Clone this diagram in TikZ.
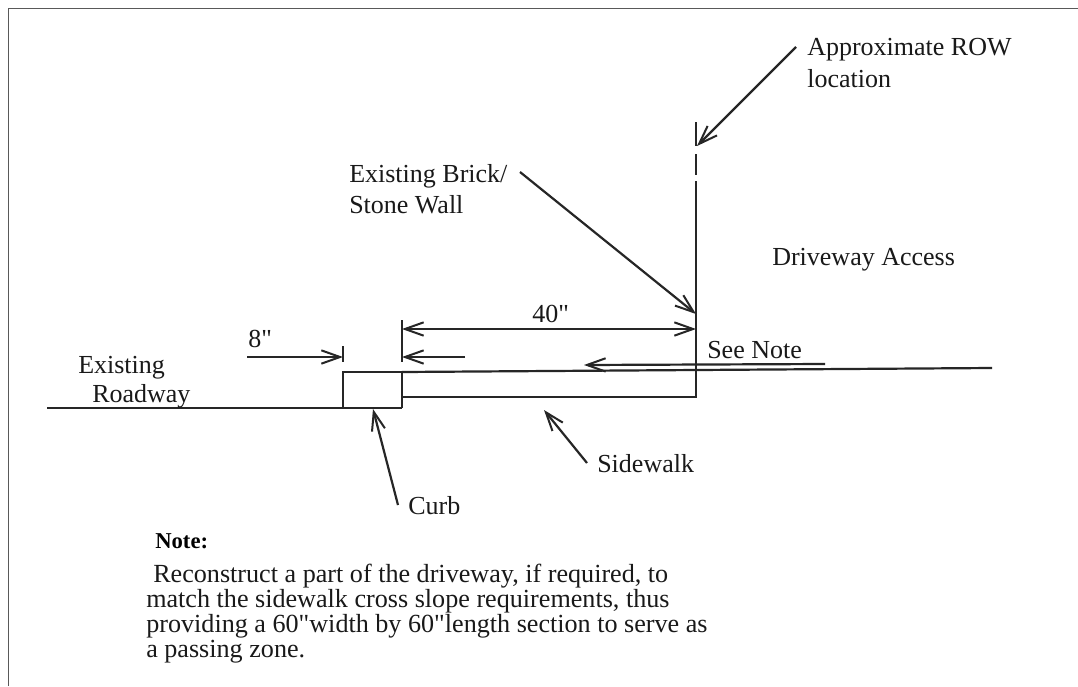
\documentclass[tikz,border=0pt]{standalone}
\usepackage{fontspec}
\setmainfont{Liberation Serif}[Ligatures=TeXOff]
\usetikzlibrary{arrows.meta}
\tikzset{
  ink/.style={draw=black!85,line width=1.65pt},
  barb/.tip={Straight Barb[length=14pt,width=10pt,line width=1.5pt]},
  lead/.style={ink,-barb},
  lbl/.style={inner sep=0pt,text=black!90,font=\fontsize{19.5}{21}\selectfont,anchor=base west},
  body/.style={inner sep=0pt,text=black!90,font=\fontsize{19.6}{18.75}\selectfont,anchor=base west}
}
\begin{document}
\begin{tikzpicture}[x=0.75pt,y=-0.75pt]
\useasboundingbox (0,0) rectangle (1078,686);
\fill[white] (0,0) rectangle (1078,686);
\draw[draw=black!65,line width=0.8pt] (8.5,686) -- (8.5,8.5) -- (1078,8.5);

% coordinates
\coordinate (roadL) at (47,408);
\coordinate (curbBL) at (343,408);
\coordinate (curbBR) at (402,408);
\coordinate (curbTL) at (343,372);
\coordinate (curbTR) at (402,372);
\coordinate (swB) at (402,397);
\coordinate (wallB) at (696,397);
\coordinate (wallT) at (696,181);
\coordinate (dashT) at (696,122);
\coordinate (dashB) at (696,146);
\coordinate (dash2T) at (696,154);
\coordinate (dash2B) at (696,175);
\coordinate (topR) at (992,368);
\coordinate (tickA1) at (343,346);
\coordinate (tickA2) at (343,362);
\coordinate (tickB1) at (402,320);
\coordinate (tickB2) at (402,362);
\coordinate (a8s) at (247,357);
\coordinate (a8e) at (343,357);
\coordinate (a40L) at (402,329);
\coordinate (a40R) at (696,329);
\coordinate (shortS) at (465,357);
\coordinate (shortE) at (402,357);
\coordinate (noteS) at (825,364);
\coordinate (noteE) at (584,365);
\coordinate (wallS) at (520,172);
\coordinate (wallE) at (696,314);
\coordinate (rowS) at (796,47);
\coordinate (rowE) at (697,146);
\coordinate (curbS) at (398,505);
\coordinate (curbE) at (373,409);
\coordinate (swS) at (587,463);
\coordinate (swE) at (544,410);

% structure
\draw[ink] (roadL) -- (curbBL) -- (curbBR);
\draw[ink] (curbBL) -- (curbTL) -- (curbTR) -- (curbBR);
\draw[ink] (curbTR) -- (topR);
\draw[ink] (swB) -- (wallB) -- (wallT);
\draw[ink] (dashT) -- (dashB);
\draw[ink] (dash2T) -- (dash2B);
\draw[ink] (tickA1) -- (tickA2);
\draw[ink] (tickB1) -- (tickB2);

% leaders
\draw[lead] (a8s) -- (a8e);
\draw[ink,barb-barb] (a40L) -- (a40R);
\draw[lead] (shortS) -- (shortE);
\draw[lead] (noteS) -- (noteE);
\draw[lead] (wallS) -- (wallE);
\draw[lead] (rowS) -- (rowE);
\draw[lead] (curbS) -- (curbE);
\draw[lead] (swS) -- (swE);

% labels
\node[lbl] (row) at (807,55) {Approximate ROW};
\node[lbl] (rowb) at (807,87) {location};
\node[lbl] (brick) at (349,182) {Existing Brick/};
\node[lbl] (stone) at (349,213) {Stone Wall};
\node[lbl] (drive) at (772,265) {Driveway Access};
\node[lbl] (forty) at (532,322) {40"};
\node[lbl] (eight) at (248,347) {8"};
\node[lbl] (seenote) at (707,358) {See Note};
\node[lbl] (ex) at (78,373) {Existing};
\node[lbl] (rw) at (92,402) {Roadway};
\node[lbl] (side) at (597,472) {Sidewalk};
\node[lbl] (curb) at (408,514) {Curb};
\node[lbl,font=\fontsize{17}{19}\selectfont\bfseries,text=black] (note) at (155,548) {Note:};
\node[body] (t1) at (153,582) {Reconstruct a part of the driveway, if required, to};
\node[body] (t2) at (146,607) {match the sidewalk cross slope requirements, thus};
\node[body] (t3) at (146,632) {providing a 60"width by 60"length section to serve as};
\node[body] (t4) at (146,657) {a passing zone.};
\end{tikzpicture}
\end{document}
